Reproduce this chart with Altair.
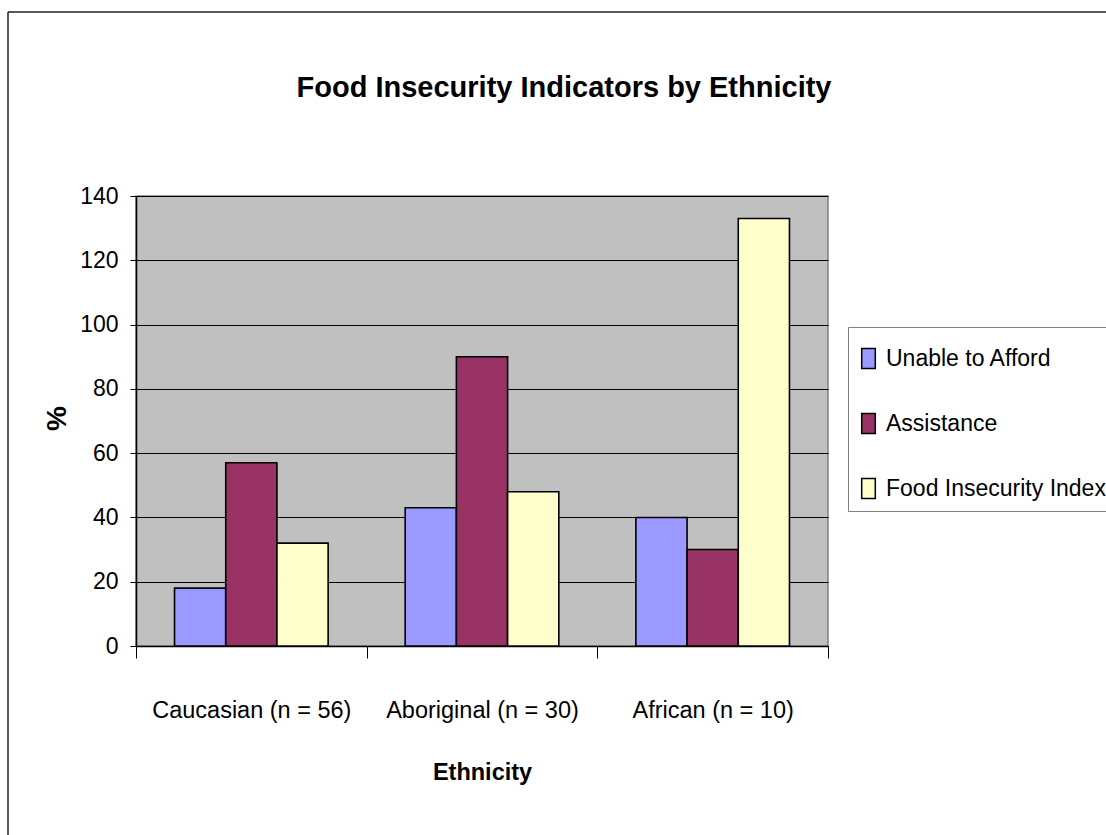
import altair as alt
import pandas as pd

categories = ["Caucasian (n = 56)", "Aboriginal (n = 30)", "African (n = 10)"]
series_names = ["Unable to Afford", "Assistance", "Food Insecurity Index"]
unable = [18, 43, 40]
assistance = [57, 90, 30]
food_index = [32, 48, 133]
y_ticks = [0, 20, 40, 60, 80, 100, 120, 140]
colors = ["#9999FF", "#993366", "#FFFFCC"]

rows = []
for i, c in enumerate(categories):
    for s, vals in zip(series_names, [unable, assistance, food_index]):
        rows.append({"Ethnicity": c, "Series": s, "Value": vals[i]})
df = pd.DataFrame(rows)

FONT = "Liberation Sans"

bars = alt.Chart(df).mark_bar(stroke="black", strokeWidth=1.6).encode(
    x=alt.X(
        "Ethnicity:N",
        sort=categories,
        scale=alt.Scale(paddingInner=0, paddingOuter=0),
        axis=alt.Axis(
            title="Ethnicity",
            labelAngle=0,
            tickBand="extent",
            tickSize=12,
            labelPadding=59,
            labelBaseline="alphabetic",
            labelLimit=400,
            labelFont=FONT,
            labelFontSize=23.5,
            titleFont=FONT,
            titleFontSize=23.5,
            titleFontWeight="bold",
            titleY=126,
            titleBaseline="middle",
            grid=False,
        ),
    ),
    xOffset=alt.XOffset("Series:N", sort=series_names,
                        scale=alt.Scale(paddingInner=0, paddingOuter=0.7525)),
    y=alt.Y(
        "Value:Q",
        scale=alt.Scale(domain=[0, 140], nice=False),
        axis=alt.Axis(
            values=y_ticks,
            title="%",
            tickSize=6,
            labelPadding=12,
            labelFont=FONT,
            labelFontSize=23,
            titleFont=FONT,
            titleFontSize=28,
            titleFontWeight="bold",
            titleAngle=270,
            titleX=-79,
            titleY=222,
            titleAlign="center",
            titleBaseline="middle",
            grid=True,
        ),
    ),
    color=alt.Color(
        "Series:N",
        sort=series_names,
        scale=alt.Scale(domain=series_names, range=colors),
        legend=alt.Legend(
            title=" ",
            titleFontSize=8,
            titlePadding=3,
            orient="none",
            legendX=712,
            legendY=131,
            symbolType="M-0.68,-1H0.68V1H-0.68Z",
            symbolSize=400,
            symbolStrokeColor="black",
            symbolStrokeWidth=1.5,
            symbolOpacity=1,
            labelFont=FONT,
            labelFontSize=23,
            labelColor="black",
            labelLimit=400,
            labelOffset=6,
            strokeColor="#808080",
            padding=9,
            rowPadding=38,
        ),
    ),
)

frame = alt.Chart(alt.Data(values=[{"k": 1}])).mark_rule(color="#222222", strokeWidth=1.5)
frame_left = frame.encode(x=alt.value(-128), y=alt.value(-184), y2=alt.value(700))
frame_top = frame.encode(x=alt.value(-128), x2=alt.value(1000), y=alt.value(-184))

chart = alt.layer(bars, frame_left, frame_top).properties(
    width=692,
    height=450,
    background="white",
    autosize=alt.AutoSizeParams(type="none"),
    padding={"left": 136, "top": 196, "right": 278, "bottom": 189},
    title=alt.TitleParams(
        "Food Insecurity Indicators by Ethnicity",
        font=FONT,
        fontSize=29,
        fontWeight="bold",
        anchor="middle",
        dx=82,
        offset=-115,
        baseline="alphabetic",
        color="black",
    ),
).configure_view(
    fill="#C0C0C0", stroke="#808080", strokeWidth=1.5
).configure_axis(
    gridColor="black", gridWidth=1, gridOpacity=1,
    domainColor="black", domainWidth=1.5,
    tickColor="black", tickWidth=1,
    labelColor="black", titleColor="black",
)

chart.save("out.html", embed_options={"renderer": "svg", "actions": False})
